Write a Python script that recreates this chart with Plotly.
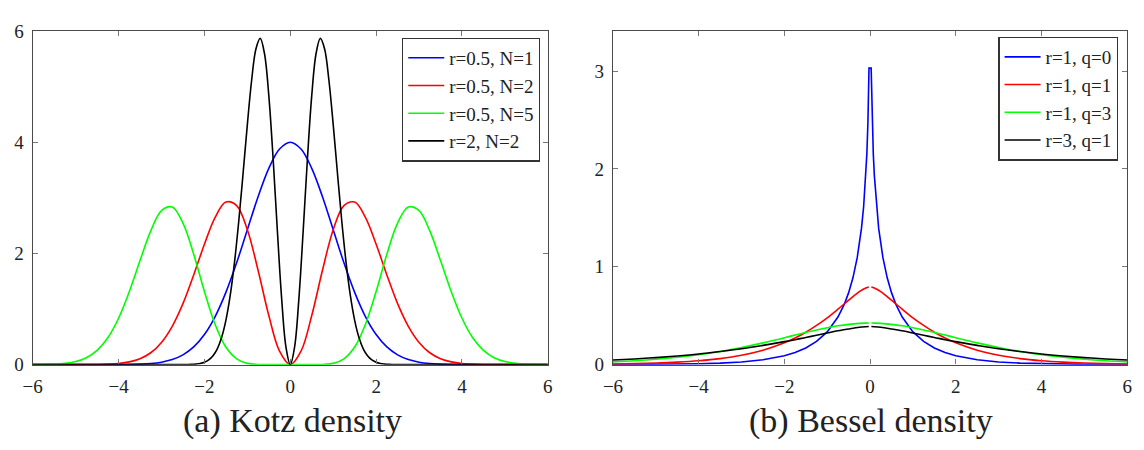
import plotly.graph_objects as go

# ---------------- (a) Kotz density ----------------
kotz_x = [-6, -5.75, -5.5, -5.25, -5, -4.75, -4.5, -4.25, -4, -3.75, -3.5, -3.25,
          -3, -2.75, -2.5, -2.25, -2, -1.75, -1.5, -1.25, -1, -0.75, -0.5, -0.25,
          0, 0.25, 0.5, 0.75, 1, 1.25, 1.5, 1.75, 2, 2.25, 2.5, 2.75, 3, 3.25,
          3.5, 3.75, 4, 4.25, 4.5, 4.75, 5, 5.25, 5.5, 5.75, 6]
kotz_r05_n1 = [0, 0, 0, 0, 0, 0, 0, 0, 0.001, 0.004, 0.009, 0.020, 0.044, 0.091, 0.176,
               0.318, 0.541, 0.865, 1.299, 1.831, 2.426, 3.019, 3.530, 3.877, 4.000,
               3.877, 3.530, 3.019, 2.426, 1.831, 1.299, 0.865, 0.541, 0.318, 0.176,
               0.091, 0.044, 0.020, 0.009, 0.004, 0.001, 0, 0, 0, 0, 0, 0, 0, 0]
kotz_r05_n2 = [0, 0, 0, 0, 0, 0.001, 0.003, 0.009, 0.021, 0.050, 0.107, 0.214, 0.400,
               0.690, 1.097, 1.612, 2.165, 2.649, 2.923, 2.861, 2.426, 1.698, 0.883,
               0.242, 0, 0.242, 0.883, 1.698, 2.426, 2.861, 2.923, 2.649, 2.165, 1.612,
               1.097, 0.690, 0.400, 0.214, 0.107, 0.050, 0.021, 0.009, 0.003, 0.001,
               0, 0, 0, 0, 0]
kotz_r05_n5 = [0.001, 0.003, 0.009, 0.023, 0.055, 0.124, 0.256, 0.483, 0.834, 1.314, 1.871,
               2.406, 2.770, 2.834, 2.546, 1.987, 1.316, 0.723, 0.316, 0.104, 0.023, 0.003,
               0, 0, 0, 0, 0, 0.003, 0.023, 0.104, 0.316, 0.723, 1.316, 1.987, 2.546, 2.834,
               2.770, 2.406, 1.871, 1.314, 0.834, 0.483, 0.256, 0.124, 0.055, 0.023, 0.009,
               0.003, 0.001]
kotz_black_x = [-6, -3, -2.5, -2.4, -2.3, -2.2, -2.1, -2.0, -1.9, -1.8, -1.7, -1.6, -1.5,
                -1.4, -1.3, -1.2, -1.1, -1.0, -0.9, -0.8, -0.7, -0.6, -0.5, -0.4, -0.3,
                -0.2, -0.1, 0, 0.1, 0.2, 0.3, 0.4, 0.5, 0.6, 0.7, 0.8, 0.9, 1.0, 1.1, 1.2,
                1.3, 1.4, 1.5, 1.6, 1.7, 1.8, 1.9, 2.0, 2.1, 2.2, 2.3, 2.4, 2.5, 3, 6]
kotz_r2_n2 = [0, 0, 0.001, 0.002, 0.004, 0.010, 0.021, 0.043, 0.084, 0.159, 0.285, 0.488,
              0.797, 1.240, 1.834, 2.578, 3.432, 4.317, 5.114, 5.676, 5.866, 5.590, 4.837,
              3.706, 2.398, 1.178, 0.313, 0, 0.313, 1.178, 2.398, 3.706, 4.837, 5.590,
              5.866, 5.676, 5.114, 4.317, 3.432, 2.578, 1.834, 1.240, 0.797, 0.488, 0.285,
              0.159, 0.084, 0.043, 0.021, 0.010, 0.004, 0.002, 0.001, 0, 0]
kotz_names = ["r=0.5, N=1", "r=0.5, N=2", "r=0.5, N=5", "r=2, N=2"]

# ---------------- (b) Bessel density ----------------
bes_x = [-6, -5.5, -5, -4.5, -4, -3.5, -3, -2.5, -2, -1.75, -1.5, -1.25, -1, -0.75, -0.5,
         -0.25, -0.1, -0.03, 0, 0.03, 0.1, 0.25, 0.5, 0.75, 1, 1.25, 1.5, 1.75, 2, 2.5,
         3, 3.5, 4, 4.5, 5, 5.5, 6]
bes_r1_q1 = [0.0064, 0.0102, 0.0161, 0.0254, 0.0397, 0.0619, 0.0959, 0.147, 0.223, 0.272,
             0.331, 0.401, 0.479, 0.567, 0.659, 0.746, 0.784, 0.794, None, 0.794, 0.784,
             0.746, 0.659, 0.567, 0.479, 0.401, 0.331, 0.272, 0.223, 0.147, 0.0959,
             0.0619, 0.0397, 0.0254, 0.0161, 0.0102, 0.0064]
bes_r1_q3 = [0.0284, 0.0397, 0.0550, 0.0753, 0.1016, 0.1347, 0.1752, 0.2226, 0.2750, 0.3026,
             0.3287, 0.3549, 0.3771, 0.3968, 0.4119, 0.4215, 0.4246, 0.4248, None, 0.4248,
             0.4246, 0.4215, 0.4119, 0.3968, 0.3771, 0.3549, 0.3287, 0.3026, 0.2750,
             0.2226, 0.1752, 0.1347, 0.1016, 0.0753, 0.0550, 0.0397, 0.0284]
bes_r3_q1 = [0.0470, 0.0583, 0.0720, 0.0889, 0.109, 0.134, 0.162, 0.197, 0.235, 0.255,
             0.278, 0.300, 0.323, 0.346, 0.365, 0.382, 0.388, 0.3898, None, 0.3898, 0.388,
             0.382, 0.365, 0.346, 0.323, 0.300, 0.278, 0.255, 0.235, 0.197, 0.162, 0.134,
             0.109, 0.0889, 0.0720, 0.0583, 0.0470]
bes_blue_x = [-6, -5, -4, -3.5, -3, -2.5, -2, -1.75, -1.5, -1.25, -1, -0.75, -0.6, -0.5,
              -0.4, -0.3, -0.2, -0.15, -0.1, -0.075, -0.05, -0.025, 0.025, 0.05, 0.075,
              0.1, 0.15, 0.2, 0.3, 0.4, 0.5, 0.6, 0.75, 1, 1.25, 1.5, 1.75, 2, 2.5, 3, 3.5,
              4, 5, 6]
bes_r1_q0 = [0.0010, 0.0029, 0.0089, 0.0156, 0.0277, 0.0496, 0.0907, 0.124, 0.170, 0.237,
             0.335, 0.486, 0.619, 0.736, 0.887, 1.093, 1.395, 1.616, 1.932, 2.154, 2.477,
             3.030, 3.030, 2.477, 2.154, 1.932, 1.616, 1.395, 1.093, 0.887, 0.736,
             0.619, 0.486, 0.335, 0.237, 0.170, 0.124, 0.0907, 0.0496, 0.0277, 0.0156,
             0.0089, 0.0029, 0.0010]
bes_names = ["r=1, q=0", "r=1, q=1", "r=1, q=3", "r=3, q=1"]

x_ticks = [-6, -4, -2, 0, 2, 4, 6]
y_ticks_a = [0, 2, 4, 6]
y_ticks_b = [0, 1, 2, 3]
captions = ["(a) Kotz density", "(b) Bessel density"]

colors = ["#0000FF", "#FF0000", "#00FF00", "#000000"]
FONT = "Liberation Serif, serif"
W, H = 1144, 450

fig = go.Figure()
kx = [kotz_x, kotz_x, kotz_x, kotz_black_x]
ky = [kotz_r05_n1, kotz_r05_n2, kotz_r05_n5, kotz_r2_n2]
for i in range(4):
    fig.add_trace(go.Scatter(x=kx[i], y=ky[i], mode="lines", name=kotz_names[i],
                             line=dict(color=colors[i], width=1.6, shape="spline", smoothing=1),
                             xaxis="x", yaxis="y", legend="legend"))
bx = [bes_blue_x, bes_x, bes_x, bes_x]
by = [bes_r1_q0, bes_r1_q1, bes_r1_q3, bes_r3_q1]
for i in range(4):
    fig.add_trace(go.Scatter(x=bx[i], y=by[i], mode="lines", name=bes_names[i],
                             connectgaps=False,
                             line=dict(color=colors[i], width=1.6,
                                       shape="linear" if i == 0 else "spline", smoothing=1),
                             xaxis="x2", yaxis="y2", legend="legend2"))

ydom = [1 - 372 / H, 1 - 22 / H]
axis_common = dict(showline=True, linecolor="#4a4a4a", linewidth=1.3, mirror="allticks",
                   ticks="inside", ticklen=5, tickcolor="#777", tickwidth=1,
                   showgrid=False, zeroline=False, ticklabelstandoff=4,
                   tickfont=dict(family=FONT, size=19, color="#222"))
legend_common = dict(bgcolor="white", bordercolor="#333", borderwidth=1.3,
                     font=dict(family=FONT, size=19, color="#222"),
                     tracegroupgap=0, itemwidth=36, yanchor="top", xanchor="right")

fig.update_layout(
    width=W, height=H, margin=dict(l=0, r=0, t=0, b=0),
    paper_bgcolor="white", plot_bgcolor="white",
    xaxis=dict(domain=[23 / W, 545 / W], range=[-6, 6], tickvals=x_ticks, anchor="y", **axis_common),
    yaxis=dict(domain=ydom, range=[0, 6], tickvals=y_ticks_a, anchor="x", **axis_common),
    xaxis2=dict(domain=[611 / W, 1132 / W], range=[-6, 6], tickvals=x_ticks, anchor="y2", **axis_common),
    yaxis2=dict(domain=ydom, range=[0, 3.41], tickvals=y_ticks_b, anchor="x2", **axis_common),
    legend=dict(x=537 / W, y=1 - 29 / H, **legend_common),
    legend2=dict(x=1123 / W, y=1 - 28 / H, **legend_common),
    annotations=[
        dict(text=captions[0], x=286 / W, y=1 - 431 / H, xref="paper", yref="paper",
             showarrow=False, font=dict(family=FONT, size=34, color="#222"),
             xanchor="center", yanchor="middle"),
        dict(text=captions[1], x=872 / W, y=1 - 431 / H, xref="paper", yref="paper",
             showarrow=False, font=dict(family=FONT, size=34, color="#222"),
             xanchor="center", yanchor="middle"),
    ],
)

fig.write_html("out.html")
